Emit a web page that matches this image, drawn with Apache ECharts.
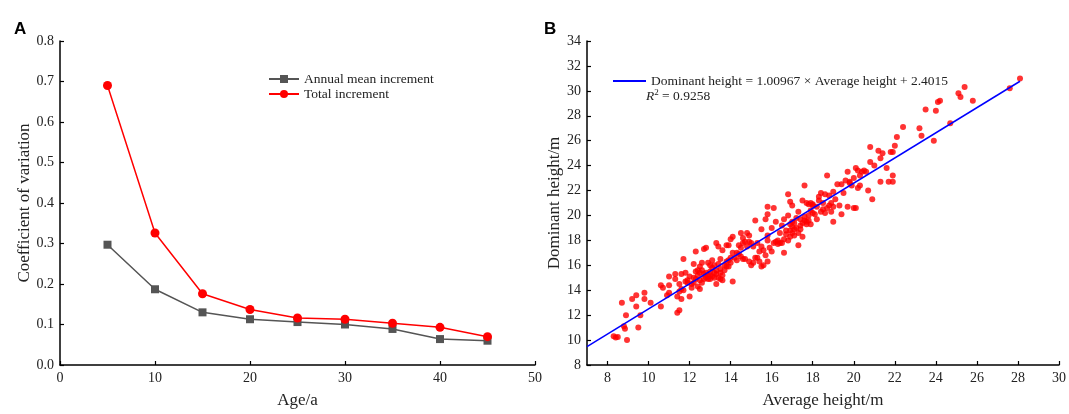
<!DOCTYPE html>
<html><head><meta charset="utf-8">
<script src="https://cdn.jsdelivr.net/npm/echarts@6/dist/echarts.min.js"></script>
<style>html,body{margin:0;padding:0;background:#fff}#c{width:1069px;height:414px}</style>
</head><body><div id="c"></div>
<script>
// Panel A data
const ages = [5, 10, 15, 20, 25, 30, 35, 40, 45];
const annualMean = [0.297, 0.187, 0.130, 0.113, 0.106, 0.100, 0.089, 0.064, 0.060];
const totalInc = [0.690, 0.326, 0.176, 0.137, 0.116, 0.113, 0.103, 0.093, 0.070];

// Panel B data
const avgHeight = [8.3,8.4,8.5,8.7,8.8,8.85,8.9,8.95,9.2,9.4,9.4,9.5,9.6,9.8,9.8,10.1,10.6,10.6,10.7,10.9,11.0,11.0,11.0,11.3,11.3,11.4,11.5,11.4,11.6,11.7,11.5,11.6,11.6,11.8,11.8,11.7,12.0,12.1,12.2,12.3,12.3,12.2,12.4,12.5,12.5,12.6,12.6,12.8,12.7,12.5,12.7,12.9,12.9,12.8,13.0,13.0,13.1,13.2,13.2,13.3,13.3,13.4,13.3,13.5,13.5,13.5,13.6,13.7,13.6,13.8,13.8,13.9,13.9,14.0,14.0,14.1,14.0,14.1,14.1,14.3,14.4,14.4,14.5,14.5,14.6,14.6,14.7,14.7,14.8,14.9,14.9,15.0,15.0,15.1,15.2,15.3,15.3,15.4,15.5,15.5,15.5,15.6,15.7,15.7,15.8,15.8,15.8,15.8,16.0,16.1,16.1,16.2,16.3,16.4,16.5,16.5,16.6,16.6,16.7,16.8,16.8,16.8,16.9,16.9,17.0,17.0,17.0,17.1,17.2,17.3,17.3,17.4,17.4,17.5,17.5,17.6,17.6,17.7,17.7,17.8,17.9,18.0,18.0,18.2,18.2,18.3,18.4,18.5,18.6,18.6,18.7,18.8,18.8,18.9,19.0,19.0,19.1,19.2,19.3,19.4,19.4,19.6,19.7,19.7,19.8,19.9,20.0,20.0,20.1,20.1,20.2,20.2,20.3,20.4,20.5,20.7,20.8,20.8,20.9,21.0,21.2,21.3,21.3,21.4,21.6,21.7,21.8,21.9,21.9,21.9,22.0,22.1,22.4,23.2,23.3,23.5,23.9,24.0,24.1,24.2,24.7,25.1,25.2,25.4,25.8,27.6,28.1,
12.2,12.3,12.4,12.6,12.7,12.8,12.9,13.0,13.1,13.2,13.3,13.4,13.4,13.5,13.6,13.7,13.8,13.9,14.2,14.3,14.6,14.8,13.1,13.0,12.5,12.4,11.9,12.0,12.1,11.5,11.9,
16.2,16.4,16.7,16.9,17.0,17.1,17.2,17.4,17.5,17.6,17.7,17.8,17.9,17.3,16.9,17.1,18.1,18.5,18.7,18.9,19.0,18.4,15.1,15.4,15.9,15.6,15.2,14.9,14.5,15.8,16.0,16.3,16.6,19.8,20.3,20.6,19.5,18.3,17.8,17.9,18.0];
const domHeight = [10.3,10.2,10.25,13.0,11.1,10.9,12.0,10.0,13.3,13.6,12.7,11.0,12.0,13.8,13.3,13.0,12.7,14.4,14.2,13.6,15.1,14.4,13.8,14.9,15.3,12.2,12.4,13.5,13.3,16.5,14.5,15.3,14.1,14.7,15.4,14.0,13.5,14.5,16.1,17.1,15.5,15.0,14.3,14.1,14.8,15.6,16.2,17.4,17.3,15.9,15.3,14.9,16.2,15.0,15.2,15.5,15.8,16.0,15.0,17.8,14.5,17.5,15.3,16.5,15.7,14.9,17.2,16.0,15.2,17.6,15.9,16.4,17.6,18.1,16.6,14.7,16.2,17.0,18.3,16.4,17.6,16.9,18.6,16.7,18.2,17.8,16.5,17.9,18.6,18.4,16.3,17.8,16.0,16.2,19.6,17.8,16.6,17.1,18.9,17.5,15.9,17.2,16.8,19.7,20.7,18.0,16.3,20.1,17.1,17.8,20.6,19.5,17.7,18.6,19.2,17.8,17.0,19.7,18.5,21.7,20.0,18.0,21.1,18.8,20.8,19.5,19.1,18.4,19.0,20.3,17.6,19.7,18.9,21.2,18.3,19.6,22.4,21.0,19.5,20.0,19.3,20.9,20.2,19.7,20.7,21.5,21.8,20.5,21.7,20.2,23.2,21.6,20.8,20.3,21.9,19.5,21.3,22.5,20.8,22.5,20.1,22.8,23.5,20.7,22.6,22.4,23.0,20.6,23.8,20.6,23.6,22.2,22.4,23.5,23.6,22.0,25.5,24.3,21.3,24.0,25.2,24.6,22.7,25.0,23.8,22.7,25.1,25.1,23.2,22.7,25.6,26.3,27.1,27.0,26.4,28.5,26.0,28.4,29.1,29.2,27.4,29.8,29.5,30.3,29.2,30.2,31.0,
14.6,14.9,15.2,14.6,14.9,15.4,15.1,14.9,15.1,15.4,15.6,15.0,16.1,15.4,14.8,15.6,16.3,15.9,16.6,17.0,16.5,17.5,16.4,16.0,15.4,15.6,14.8,15.1,14.2,13.9,14.6,
17.9,17.8,18.8,18.3,18.6,19.4,19.8,19.2,19.4,19.9,19.3,19.6,20.4,18.6,19.3,18.9,20.1,21.0,20.6,21.0,20.7,20.3,17.5,16.3,17.4,16.0,16.6,17.9,17.4,18.4,19.0,18.0,18.1,22.7,23.2,23.5,21.8,21.2,20.9,21.0,20.8];
const fitX = [7, 28.1];
const fitY = [9.47, 30.77];
const ticksB_x = [8, 10, 12, 14, 16, 18, 20, 22, 24, 26, 28, 30];

const serif = '"Liberation Serif", "DejaVu Serif", serif';
const axisCommon = {
  axisLine: { show: true, lineStyle: { color: '#000', width: 1.5 } },
  axisTick: { show: true, inside: true, length: 4, lineStyle: { color: '#000', width: 1.2 } },
  axisLabel: { color: '#222', fontFamily: serif, fontSize: 14, margin: 6 },
  splitLine: { show: false },
  nameTextStyle: { color: '#222', fontFamily: serif, fontSize: 17 },
  nameLocation: 'middle'
};

const chart = echarts.init(document.getElementById('c'), null, { renderer: 'canvas' });
chart.setOption({
  backgroundColor: '#fff',
  animation: false,
  title: [
    { text: 'A', left: 9, top: 16, textStyle: { fontFamily: '"Liberation Sans", Arial, sans-serif', fontWeight: 'bold', fontSize: 17, color: '#000' } },
    { text: 'B', left: 539, top: 16, textStyle: { fontFamily: '"Liberation Sans", Arial, sans-serif', fontWeight: 'bold', fontSize: 17, color: '#000' } }
  ],
  grid: [
    { left: 60, right: 534, top: 41, bottom: 41 },
    { left: 587, right: 10, top: 41, bottom: 41 }
  ],
  legend: [
    {
      left: 263, top: 67, orient: 'vertical', itemGap: 1, itemWidth: 30, itemHeight: 10,
      textStyle: { fontFamily: serif, fontSize: 13.5, color: '#222' },
      data: ['Annual mean increment', 'Total increment']
    },
    {
      left: 608, top: 69, itemWidth: 33, itemHeight: 10,
      textStyle: { fontFamily: serif, fontSize: 13.5, color: '#222' },
      data: [{ name: 'fit', icon: 'path://M0,4 L34,4 L34,6 L0,6 Z' }],
      formatter: () => 'Dominant height = 1.00967 × Average height + 2.4015'
    }
  ],
  graphic: [
    {
      type: 'text', left: 646, top: 88,
      style: {
        text: '{i|R}{s|2} = 0.9258',
        rich: {
          i: { fontFamily: serif, fontSize: 13.5, fontStyle: 'italic', fill: '#222' },
          s: { fontFamily: serif, fontSize: 9, fill: '#222', verticalAlign: 'top', padding: [0, 0, 8, 0] }
        },
        font: '13.5px "Liberation Serif"', fill: '#222'
      }
    }
  ],
  xAxis: [
    Object.assign({}, axisCommon, {
      gridIndex: 0, type: 'value', min: 0, max: 50, interval: 10,
      name: 'Age/a', nameGap: 27
    }),
    Object.assign({}, axisCommon, {
      gridIndex: 1, type: 'value', min: 7, max: 30,
      name: 'Average height/m', nameGap: 27,
      axisTick: Object.assign({}, axisCommon.axisTick, { customValues: ticksB_x }),
      axisLabel: Object.assign({}, axisCommon.axisLabel, { customValues: ticksB_x })
    })
  ],
  yAxis: [
    Object.assign({}, axisCommon, {
      gridIndex: 0, type: 'value', min: 0, max: 0.8, interval: 0.1,
      name: 'Coefficient of variation', nameGap: 21,
      axisLabel: Object.assign({}, axisCommon.axisLabel, { formatter: v => v.toFixed(1) })
    }),
    Object.assign({}, axisCommon, {
      gridIndex: 1, type: 'value', min: 8, max: 34, interval: 2,
      name: 'Dominant height/m', nameGap: 20
    })
  ],
  series: [
    {
      name: 'Annual mean increment', type: 'line', xAxisIndex: 0, yAxisIndex: 0,
      data: ages.map((a, i) => [a, annualMean[i]]),
      symbol: 'rect', symbolSize: 8,
      lineStyle: { color: '#555', width: 1.5 }, itemStyle: { color: '#555' }
    },
    {
      name: 'Total increment', type: 'line', xAxisIndex: 0, yAxisIndex: 0,
      data: ages.map((a, i) => [a, totalInc[i]]),
      symbol: 'circle', symbolSize: 9,
      lineStyle: { color: '#ff0000', width: 1.5 }, itemStyle: { color: '#ff0000' }
    },
    {
      name: 'points', type: 'scatter', xAxisIndex: 1, yAxisIndex: 1,
      data: avgHeight.map((x, i) => [x, domHeight[i]]),
      symbol: 'circle', symbolSize: 6,
      itemStyle: { color: '#ff0000' }
    },
    {
      name: 'fit', type: 'line', xAxisIndex: 1, yAxisIndex: 1,
      data: fitX.map((x, i) => [x, fitY[i]]),
      symbol: 'none', lineStyle: { color: '#0000ff', width: 1.5 }, itemStyle: { color: '#0000ff' }, z: 5
    }
  ]
});
</script>
</body></html>
